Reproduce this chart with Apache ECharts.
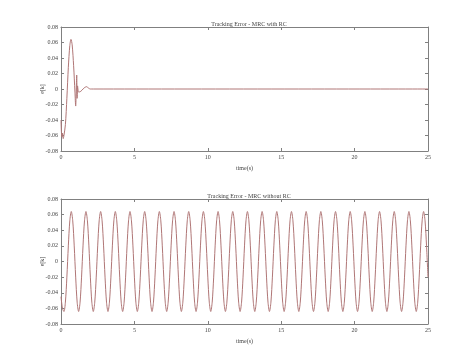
<!DOCTYPE html>
<html><head><meta charset="utf-8">
<script src="https://cdn.jsdelivr.net/npm/echarts@6/dist/echarts.min.js"></script>
<style>html,body{margin:0;padding:0;background:#fff}#c{width:474px;height:364px}</style>
</head><body><div id="c"></div>
<script>
// ---- data ----
var topTitle = 'Tracking Error - MRC with RC';
var bottomTitle = 'Tracking Error - MRC without RC';
var xTicks = [0, 5, 10, 15, 20, 25];
var yTicks = [-0.08, -0.06, -0.04, -0.02, 0, 0.02, 0.04, 0.06, 0.08];

// top plot (with RC): time and error samples
var topTime = [0, 0.03, 0.06, 0.1, 0.15, 0.2, 0.3, 0.4, 0.5, 0.6, 0.68, 0.76, 0.86, 0.95, 1.0, 1.04, 1.07, 1.1, 1.13, 1.2, 1.35, 1.5, 1.62, 1.75, 1.88, 2.0, 2.2, 25];
var topErr  = [-0.040, -0.056, -0.062, -0.057, -0.064, -0.060, -0.046, -0.012, 0.028, 0.056, 0.064, 0.057, 0.030, -0.004, -0.022, 0.000, 0.018, -0.012, 0.004, -0.004, -0.003, 0.000, 0.002, 0.003, 0.001, 0.000, 0.000, 0.000];

// bottom plot (without RC): error sampled every 0.1 s from t = 0 to 25
var bottomStep = 0.1;
var bottomErr = [
-0.045,-0.060,-0.064,-0.052,-0.020,0.020,0.052,0.064,0.052,0.020,
-0.020,-0.052,-0.064,-0.052,-0.020,0.020,0.052,0.064,0.052,0.020,
-0.020,-0.052,-0.064,-0.052,-0.020,0.020,0.052,0.064,0.052,0.020,
-0.020,-0.052,-0.064,-0.052,-0.020,0.020,0.052,0.064,0.052,0.020,
-0.020,-0.052,-0.064,-0.052,-0.020,0.020,0.052,0.064,0.052,0.020,
-0.020,-0.052,-0.064,-0.052,-0.020,0.020,0.052,0.064,0.052,0.020,
-0.020,-0.052,-0.064,-0.052,-0.020,0.020,0.052,0.064,0.052,0.020,
-0.020,-0.052,-0.064,-0.052,-0.020,0.020,0.052,0.064,0.052,0.020,
-0.020,-0.052,-0.064,-0.052,-0.020,0.020,0.052,0.064,0.052,0.020,
-0.020,-0.052,-0.064,-0.052,-0.020,0.020,0.052,0.064,0.052,0.020,
-0.020,-0.052,-0.064,-0.052,-0.020,0.020,0.052,0.064,0.052,0.020,
-0.020,-0.052,-0.064,-0.052,-0.020,0.020,0.052,0.064,0.052,0.020,
-0.020,-0.052,-0.064,-0.052,-0.020,0.020,0.052,0.064,0.052,0.020,
-0.020,-0.052,-0.064,-0.052,-0.020,0.020,0.052,0.064,0.052,0.020,
-0.020,-0.052,-0.064,-0.052,-0.020,0.020,0.052,0.064,0.052,0.020,
-0.020,-0.052,-0.064,-0.052,-0.020,0.020,0.052,0.064,0.052,0.020,
-0.020,-0.052,-0.064,-0.052,-0.020,0.020,0.052,0.064,0.052,0.020,
-0.020,-0.052,-0.064,-0.052,-0.020,0.020,0.052,0.064,0.052,0.020,
-0.020,-0.052,-0.064,-0.052,-0.020,0.020,0.052,0.064,0.052,0.020,
-0.020,-0.052,-0.064,-0.052,-0.020,0.020,0.052,0.064,0.052,0.020,
-0.020,-0.052,-0.064,-0.052,-0.020,0.020,0.052,0.064,0.052,0.020,
-0.020,-0.052,-0.064,-0.052,-0.020,0.020,0.052,0.064,0.052,0.020,
-0.020,-0.052,-0.064,-0.052,-0.020,0.020,0.052,0.064,0.052,0.020,
-0.020,-0.052,-0.064,-0.052,-0.020,0.020,0.052,0.064,0.052,0.020,
-0.020,-0.052,-0.064,-0.052,-0.020,0.020,0.052,0.064,0.052,0.020,
-0.020
];

// ---- build chart ----
var topData = topTime.map(function (t, i) { return [t, topErr[i]]; });
var bottomData = bottomErr.map(function (v, i) { return [+(i * bottomStep).toFixed(2), v]; });

var FONT = '"Liberation Sans Narrow", "Liberation Serif", serif';
var FS = 6;
var axisCol = '#808080';
var textCol = '#444';
var lineCol = '#b07676';

function yFmt(v) {
  if (Math.abs(v) < 1e-9) return '0';
  return v.toFixed(2);
}

function xAxisPair(gi) {
  return [{
    gridIndex: gi, type: 'value', min: 0, max: 25, interval: 5,
    name: 'time(s)', nameLocation: 'middle', nameGap: 14, nameMoveOverlap: false,
    nameTextStyle: { fontFamily: FONT, fontSize: FS, color: textCol },
    axisLine: { show: true, onZero: false, lineStyle: { color: axisCol } },
    axisTick: { show: true, inside: true, length: 3, lineStyle: { color: axisCol } },
    axisLabel: { fontFamily: FONT, fontSize: FS, color: textCol, margin: 3 },
    splitLine: { show: false }
  }, {
    gridIndex: gi, type: 'value', min: 0, max: 25, interval: 5, position: 'top',
    axisLine: { show: true, onZero: false, lineStyle: { color: axisCol } },
    axisTick: { show: true, inside: true, length: 3, lineStyle: { color: axisCol } },
    axisLabel: { show: false }, splitLine: { show: false }
  }];
}
function yAxisPair(gi) {
  return [{
    gridIndex: gi, type: 'value', min: -0.08, max: 0.08, interval: 0.02,
    name: 'e[k]', nameLocation: 'middle', nameGap: 16, nameRotate: 90, nameMoveOverlap: false,
    nameTextStyle: { fontFamily: FONT, fontSize: FS, color: textCol },
    axisLine: { show: true, onZero: false, lineStyle: { color: axisCol } },
    axisTick: { show: true, inside: true, length: 3, lineStyle: { color: axisCol } },
    axisLabel: { fontFamily: FONT, fontSize: FS, color: textCol, margin: 3, formatter: yFmt },
    splitLine: { show: false }
  }, {
    gridIndex: gi, type: 'value', min: -0.08, max: 0.08, interval: 0.02, position: 'right',
    axisLine: { show: true, onZero: false, lineStyle: { color: axisCol } },
    axisTick: { show: true, inside: true, length: 3, lineStyle: { color: axisCol } },
    axisLabel: { show: false }, splitLine: { show: false }
  }];
}

var chart = echarts.init(document.getElementById('c'), null, { renderer: 'canvas' });
chart.setOption({
  backgroundColor: '#ffffff',
  animation: false,
  title: [
    { text: topTitle, left: 244, top: 16, textAlign: 'center',
      textStyle: { fontFamily: FONT, fontSize: FS, fontWeight: 'normal', color: textCol } },
    { text: bottomTitle, left: 244, top: 188, textAlign: 'center',
      textStyle: { fontFamily: FONT, fontSize: FS, fontWeight: 'normal', color: textCol } }
  ],
  grid: [
    { left: 61, top: 27, width: 367, height: 124 },
    { left: 61, top: 199, width: 367, height: 125 }
  ],
  xAxis: xAxisPair(0).concat(xAxisPair(1)),
  yAxis: yAxisPair(0).concat(yAxisPair(1)),
  series: [
    { type: 'line', xAxisIndex: 0, yAxisIndex: 0, data: topData, smooth: 0.3,
      showSymbol: false, lineStyle: { color: lineCol, width: 1 } },
    { type: 'line', xAxisIndex: 2, yAxisIndex: 2, data: bottomData, smooth: 0.3,
      showSymbol: false, lineStyle: { color: lineCol, width: 1 } }
  ]
});
</script>
</body></html>
